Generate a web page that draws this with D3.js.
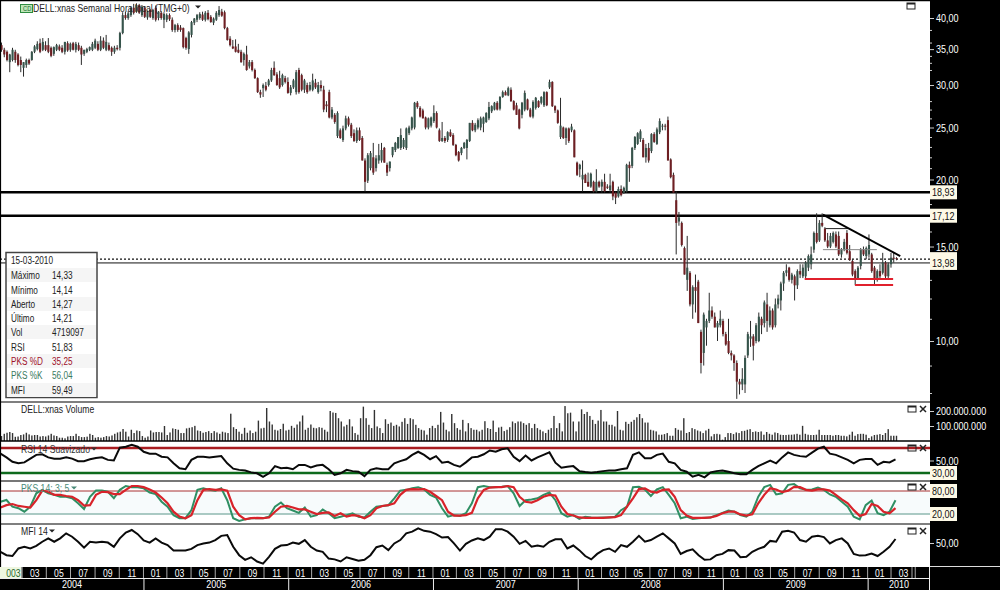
<!DOCTYPE html>
<html><head><meta charset="utf-8">
<script src="https://d3js.org/d3.v7.min.js"></script>
<style>html,body{margin:0;padding:0;background:#fff;overflow:hidden}svg{display:block}text{font-family:"Liberation Sans",Arial,sans-serif}</style>
</head><body><svg id="c" width="1000" height="590"></svg>
<script>
// [open, high, low, close] weekly
const candles2004=[[35.6,36,34.6,34.9],[34.9,35.2,33.8,34.2],[34.6,34.8,33.2,33.4],[33.1,34.3,31.7,34.2],[33.4,35.2,33.2,34.9],[34.6,34.9,33,33.4],[34.2,34.4,32.5,32.7],[33.4,33.9,31.7,32.7],[32.3,33.1,31.1,33.1],[32.7,33.6,32.3,33.4],[33.4,33.6,32.7,32.9],[33.4,34.7,33.3,34.6],[34.6,35.6,34.4,35.4],[35,36.2,34.8,35.8],[35.9,36.6,34.4,34.6],[34.9,36.7,34.7,36.1],[35.6,36.2,34.7,34.9],[35.6,36.7,34.4,34.6],[35.2,35.4,33.8,34],[34.3,35.4,34,35.3],[34.9,35.8,34.7,35.6],[35.4,35.7,34.7,34.9],[35.2,35.6,34.4,34.6],[34.6,36.1,34.2,36.1],[35.9,36.2,34.6,34.8],[34.9,36,34.6,35.8],[35.9,36.1,34.8,34.9],[34.9,36.1,34.5,35.8],[35.6,36,34.7,34.9],[35.2,35.5,32.7,34.2],[34.3,34.9,34,34.9],[34.6,35.2,34.4,35],[34.9,35.4,34.7,35.3],[34.9,36.1,34.7,35.8],[35.2,36.6,35,36.3],[35.8,36.2,34.7,34.9],[34.9,37,34.7,36.3],[36.3,36.8,35,35.2],[34.9,37.2,34.7,36.1],[35.6,36,34.7,34.9],[35.2,35.4,34,34.6],[34.6,35.5,34.3,35.2],[35.2,35.6,34.8,35],[35.2,37.7,34.8,37.5],[37.5,41,37.3,40.5],[40.5,41.1,39.7,40],[40,41.2,39.7,40.8],[40.5,42,40.2,41.8],[41.8,42.5,40.6,40.9],[41.1,42.6,40.9,42.3],[42.3,42.5,40.7,40.9],[40.5,42.3,40.2,42],[41.8,42.1,40,40.2]];
const candles2005=[[40.1,41.3,39.7,41.1],[41.4,41.6,40,40.2],[40,41.6,39.7,41.4],[41.8,42.2,39.4,39.7],[40,41.2,39.6,41.1],[40.9,41.2,39.7,40],[39.7,41,38.3,40.7],[39.7,40.8,39.3,40.5],[40.5,40.8,39.5,39.8],[39.7,40.1,37.7,38],[38,39,37.6,38.8],[38.8,39.1,37.7,38],[38.4,38.8,37.7,38],[38.3,38.4,35.1,35.3],[36.7,36.9,34.9,35.2],[35,37.8,34.3,37.6],[37.2,39.5,36.8,39.3],[39.2,40,38.8,39.9],[39.7,40.7,39.3,40.5],[40,41,39.7,40.7],[40.6,41.1,39.5,39.7],[39.7,41.2,39.4,40.9],[40.9,41.4,39.6,39.8],[40.2,40.5,39.2,39.3],[39.2,40.1,38.8,39.9],[39.7,41.2,39.5,40.9],[40.5,42.1,40.2,41.4],[41.1,41.6,40.2,40.4],[41,41.3,38.1,38.3],[38.3,38.5,36.3,36.4],[36.6,37,35.4,35.6],[35.4,36.4,35,35.1],[35.4,36.5,34.5,34.6],[34.9,35.8,34.4,34.5],[34.6,34.9,33,33.1],[33.4,34.5,32.6,34.3],[34.2,35.5,31.9,32],[32.5,33.4,32.2,33.1],[33.1,33.4,31.8,32],[32,32.2,30.8,30.9],[30.9,31,29,29.1],[29.1,29.4,28.4,28.8],[29.6,30.2,28.5,30],[29.9,30.4,29.2,29.4],[30,30.8,29.8,30.6],[30.6,32.3,30.4,32],[32.3,33.2,31.2,31.3],[31.4,31.7,29.9,30],[30.9,31.9,29.5,29.7],[30,31.5,29.8,31.3],[30.9,31.2,30.2,30.4],[30.4,31,28.9,29],[29,30,28.7,29.7]];
const candles2006=[[29.7,30.8,29.5,30.6],[29.1,32,28.8,31.7],[32,32.3,28.9,29.1],[31.3,31.5,29.2,29.4],[29.4,30.8,29,30.6],[30,30.3,28.9,29.1],[29.4,30.4,29.2,30],[29.4,31.5,29.2,30.6],[30.3,30.8,29.5,29.7],[29.1,30.4,28.9,30],[30,30.6,29.2,29.6],[29.4,29.9,26.7,27],[27.6,28,26.7,27.4],[29.1,29.4,26,26.1],[26.1,27.3,25.9,27],[26.4,26.6,25.4,25.6],[24.1,26.8,23.9,26.6],[24.7,24.9,23.8,23.9],[23.7,25.2,23.5,24.9],[24.9,26.3,24.7,26],[26,26.2,25.1,25.3],[25.3,25.5,23.9,24.1],[24.4,24.8,23.5,23.6],[23.6,25,23.4,24.7],[24.7,25,23.6,23.7],[23.9,24.1,21.7,21.7],[21.7,21.9,19,19.8],[19.9,22.4,19.7,22.2],[21,22.6,20.8,22.4],[22,23.4,20.4,20.6],[21,22.2,20.7,21.9],[21.7,23.3,21.4,22.2],[21.7,23.4,21.5,22.7],[22.9,23,21.5,21.5],[21.3,21.5,20.3,20.6],[21,21.6,20.7,21.6],[22.2,23,22,23],[22.7,23.5,22.5,23.4],[22.9,24,22.8,24],[22.9,24.9,22.7,24.2],[23,23.9,22.8,23.7],[22.9,25,22.7,24.9],[24.4,25.2,24.2,25],[24.9,26.2,24.7,26.1],[25,27.9,24.8,27.8],[27.8,28,27.1,27.3],[27.2,27.4,26.1,26.2],[26.9,27.1,26,26],[26.1,26.2,24.8,25],[25,26.1,24.8,26],[25.2,26.2,25,26.1],[25.7,27.5,25.5,26.6],[26.6,26.8,24.9,25],[24.7,24.9,23.5,23.6]];
const candles2007=[[23.6,25.6,23.5,23.9],[23.9,24.1,23.4,23.6],[23.7,24.6,23.5,24.5],[24.5,24.8,24,24.1],[24.2,24.4,23.1,23.2],[23.2,23.3,22.1,22.2],[22.5,22.6,21.6,21.7],[22.4,23,22.2,22.9],[22.9,23.5,22.8,23.4],[22.9,23.8,21.8,23.7],[23.6,25.5,23.5,25.5],[25.5,25.8,24.6,24.7],[24.7,25.5,24.5,25.3],[25,26,24.8,25.8],[25,26.2,24.7,26],[25.4,26.2,24.5,26.1],[25.6,26.7,25.5,26.6],[26,27.9,25.8,27.3],[26.8,27.5,26.6,27.4],[27,27.9,26.9,27.8],[27.8,28,26.9,27],[27.1,28.6,26.9,28.5],[28.5,29.3,28.4,29.1],[29.1,29.3,28.7,28.7],[28.7,29.8,28.6,29.6],[29.4,29.7,27.9,28],[28,28.1,26.9,27],[27.5,27.8,26.4,26.4],[27,27.1,24.8,24.9],[26.4,27.9,26,27.8],[27,29.3,26.8,29],[28.2,28.3,26.9,27],[27,27.2,26.1,26.2],[26.2,28.1,26,27.9],[27.2,28.5,27,28.4],[28,28.1,27.2,27.3],[27.8,28.6,27.6,28.5],[27.5,29.2,27.3,29.1],[29.1,29.2,27.4,27.5],[29.7,30.7,29.5,30.4],[30.4,30.5,27.3,27.4],[27.4,27.5,26.6,26.9],[26.9,27,25.4,25.5],[24,28.4,23.8,25.2],[25,25.1,23.8,23.9],[23.9,25,23.2,24.9],[24.9,25,23.4,23.6],[24.7,25.4,24.5,25.1],[24.7,24.8,22,22],[21.5,21.6,20.3,20.4],[20.9,21.4,20.2,21.3]];
const candles2008=[[20,21.7,19,20.4],[20.4,20.5,19.7,19.7],[19.8,20.6,19.4,19.4],[19.4,20.6,19.3,20.5],[19.8,19.9,18.9,19],[19,20.9,18.9,19.8],[19.8,19.9,19.3,19.4],[19.4,20,18.9,19.8],[19.8,20.5,18.9,19],[19.4,19.6,19.2,19.3],[19.1,20.5,18.9,19.5],[19.8,19.9,18.3,18.6],[18.9,19,18,18.5],[18.6,19.4,18.5,19.2],[19.2,19.5,18.6,18.7],[18.9,19.4,18.8,19.3],[19,21.4,18.9,21.3],[21.3,21.6,19.8,21],[21.2,23,21,22.9],[22.9,24.1,22.7,24],[23.3,24.5,23.2,24.4],[23.8,24.8,23.5,24.6],[23.7,23.9,22,22],[22,23.3,21.5,22.9],[22.9,23.4,21.5,21.7],[22.6,24.4,22.4,24.3],[24.3,24.5,23.4,23.5],[23.3,25,23.2,24.8],[24.5,26,24.3,25.7],[25.1,25.4,24.7,25.2],[25.2,25.4,24.7,25.1],[25.8,26.2,21.7,21.7],[21.8,21.9,20.1,20.2],[20.4,20.6,18.9,18.9],[18.3,19,14.5,16.6],[16.7,17.4,16.4,17],[16.6,16.7,15,15.1],[14.9,15,13.3,13.3],[13,15.7,12.4,13.7],[13.4,13.5,11.6,11.7],[11.7,12.7,11,12.6],[12.6,13.3,11.3,12.4],[12.9,13,10.8,10.8],[10.4,10.5,8.7,9.1],[9.5,11.3,9,11.2],[10.6,11,9.8,10.9],[10.9,12.3,10.8,11.4],[11.4,11.6,11,11.1],[11.1,11.3,10.6,10.6],[10.6,10.9,10,10.8],[10.7,11.4,10.6,11],[10.9,11,10.2,10.3]];
const candles2009=[[10.3,10.4,9.8,9.85],[10,11,9.45,9.5],[9.5,9.6,9.2,9.4],[9.4,9.45,8.8,9.1],[9.1,9.2,7.8,8.4],[8.4,8.5,7.95,8.3],[8.3,8.9,8.1,8.5],[8.3,9.4,8,9.3],[9.4,10.4,9.3,10.3],[10.1,10.9,9.75,10.2],[10.2,10.3,9.2,9.8],[10,10.8,9.9,10.7],[10,11.3,9.95,11.1],[11,11.1,10.3,10.7],[10.8,11.9,10.6,11.8],[11.7,12.3,10.4,10.9],[10.7,11.6,10.6,11.4],[11.4,11.5,10.5,10.6],[10.7,12,10.6,11.7],[11.7,12.2,11.5,12],[11.9,12.9,11.4,12.8],[12.8,13.5,12.4,13.4],[13.4,13.9,13.2,13.55],[13.7,13.75,12.9,13],[13,13.4,12.8,13.3],[13.2,13.3,11.9,12.7],[12.7,13.6,12.5,13.5],[13.5,13.9,13.1,13.3],[13.2,13.9,13.1,13.7],[13.2,14.1,13,14],[13.7,14.5,13.5,14.4],[13.9,15,13.6,14.5],[14.8,16,14.6,15.9],[15.9,17.3,15.2,15.3],[15.4,16.8,15.3,16.6],[16.6,17.3,16.3,16.4],[16.2,16.3,15.3,15.4],[15.4,15.9,14.9,15],[15,15.9,14.9,15.7],[15.3,16,15.2,15.9],[15.8,16,14.9,15],[15.7,16,14.4,14.5],[14.5,14.9,14.3,14.8],[14.8,15.5,14.7,15.3],[15.9,16.1,14.5,14.6],[14.7,15.1,14.1,14.15],[14.1,14.2,13.2,13.3],[13.5,13.6,12.7,13.1],[13.1,13.8,13,13.7],[13.8,14.9,13.6,14.8],[14.8,15,14.4,14.5],[14.4,15,14.2,14.9]];
const candles2010=[[14.5,15.8,14.3,15.1],[14.5,14.6,13.4,13.5],[13.7,13.8,12.7,13.1],[13,13.6,12.9,13.5],[13.5,13.9,13,13.2],[13.4,14.6,13.3,14],[14,14.1,13.1,13.2],[13.2,14,13.1,13.9],[13.9,14.6,13.7,14.3],[14.3,14.6,14,14.27],[14.27,14.33,14.14,14.21]];
const volume=[33,48,55,60,53,28,30,40,44,55,44,37,40,40,30,33,30,37,48,37,33,22,22,18,30,33,33,48,33,26,26,29,48,40,22,26,22,26,33,30,37,48,57,62,80,62,30,75,53,70,66,33,22,30,70,57,60,60,57,100,40,57,84,80,75,53,53,84,88,92,101,70,66,55,60,66,53,66,57,48,62,57,53,182,92,80,62,48,88,55,70,53,62,136,84,88,220,130,110,75,70,80,115,70,75,101,88,110,130,170,75,88,110,88,85,92,88,75,62,200,190,187,152,130,97,108,145,97,53,42,152,229,152,108,86,207,97,86,53,145,114,123,101,108,97,128,152,114,152,145,108,86,75,70,42,86,101,86,108,194,123,75,64,180,119,86,75,141,64,119,86,75,75,64,75,132,86,80,136,60,90,95,66,75,92,130,119,130,130,119,108,119,86,114,86,75,64,53,75,86,167,86,119,64,233,185,189,130,64,130,211,180,194,167,141,114,136,207,130,130,108,108,97,200,75,70,128,114,128,141,158,180,152,123,123,75,70,64,42,42,46,53,35,35,86,75,70,152,53,60,86,79,70,64,53,70,81,31,46,48,44,9,26,53,53,46,57,53,66,68,75,79,60,64,60,64,42,60,48,42,57,53,42,40,40,42,42,44,48,42,101,48,42,40,40,42,75,40,40,40,40,35,40,40,35,35,31,42,62,35,46,48,48,42,20,31,40,42,46,40,53,79,35,35,35];
const rsi=[61,55,48,45.5,47,53,59,60,55,53,53,55,53,49,49,52,54,55,51,50,70.5,72,75,72,64,61,61,56,55,45.5,37.5,36,51,56,56,55,56,57,45.5,37,35,34,31,29.5,24,29.5,41,37.5,38.5,36,43,43,39,42,43,36,27,29.5,35,33,32,25,35,37.5,36,36,45.5,49,52,59,64,59,52,57,46.5,48,43,40,47,55,56,60,66,64,68,69.5,56,49,58,50,55,59,63,46.5,38.5,40,41,33,31.5,30.5,31.5,33,34,34,36,37.5,59,63,53.5,53.5,59,61,48,45.5,35,32,24,27,23,31,33,34,32,29.5,28,28,35,41,45.5,50,45.5,55,63,59,57,56,62.5,69,72,61,59,55,51,45.5,51,52.4,52.4,43,48,47,51.83];
const mfi=[29,21,19,37,41,37,43,53,61,53,61,73,65,53,39,53,51,53,51,41,61,75,81,71,56,51,61,51,45,32,32,32,36,45,49,51,57,67,69,41,21,10,16,6,1,17,36,44,45,51,48,57,41,32,29,13,11,6,16,12,8,10,21,40,44,33,49,57,73,77,85,79,77,71,63,64,49,32,48,56,61,57,65,83,83,77,65,48,55,41,44,41,53,59,59,37,44,33,19,11,24,33,37,29,45,41,53,67,53,57,65,73,61,49,24,31,35,21,10,11,21,24,33,32,16,17,29,36,41,55,53,77,79,75,57,53,65,67,64,49,57,61,49,24,20,21,25,19,29,41,59.49];
const pksK=[52,56.5,39,35,26,39,74,83,74,70,65,65,61,48,33,65,81,81,78,61,83,93,90,90,87,76,72,52,39,17,9,9,30,83,87,83,81,87,56,9,2,6,9,9,9,13,39,50,35,29,23,37,13,17,32,22,9,13,17,22,13,11,26,39,41,43,61,81,83,87,90,84,70,63,35,13,17,15,22,48,90,93,90,90,91,93,74,41,56,58,61,70,76,56,22,13,17,7,13,11,10,11,11,13,30,39,90,91,84,67,84,90,70,48,9,13,7,9,10,11,17,23,29,26,17,13,26,65,90,96,71,74,96,98,87,83,84,89,83,71,65,52,39,13,6,43,55,22,17,26,56.04];
const pksD=[37,43,46,41,39,37,56,81,78,70,70,67,65,56,42,43,70,78,77,72,72,83,93,93,90,84,76,63,48,26,13,9,17,56,83,85,83,84,81,39,17,6,9,10,9,11,26,39,41,37,32,32,26,20,23,24,15,22,13,17,15,9,17,35,41,43,48,70,83,85,84,85,78,67,56,26,16,16,17,23,61,83,89,90,90,93,90,65,52,50,56,65,70,68,39,20,16,11,10,10,10,10,11,12,17,39,61,85,87,78,76,83,84,65,30,16,10,10,10,11,15,22,26,26,19,16,19,48,70,87,84,77,81,91,90,83,81,84,84,81,70,58,48,30,15,20,46,41,26,22,35.25];
const monthLabels=["003","03","05","07","09","11","01","03","05","07","09","11","01","03","05","07","09","11","01","03","05","07","09","11","01","03","05","07","09","11","01","03","05","07","09","11","01","03"];
const yearLabels=["2004","2005","2006","2007","2008","2009","2010"];
const priceTicks=[40,35,30,25,20,15,10];
const priceMinor=[45,38,36,34,33,32,28,27,26,24,23,22,21,19,18,17,16,14,13,12,11,9,8];
const volTicks=[200e6,100e6];
const rsiTicks=[50];
const mfiTicks=[50];
const levels=[18.93,17.12];
const infoLabels=["15-03-2010","Máximo","Mínimo","Aberto","Último","Vol","RSI","PKS %D","PKS %K","MFI"];
const infoValues=["","14,33","14,14","14,27","14,21","4719097","51,83","35,25","56,04","59,49"];
const trendLine=[[new Date(2009,8,9),17.2],[new Date(2010,2,23),14.4]];
const grayLevels=[[new Date(2009,8,15),new Date(2009,10,12),16.2,"#222"],[new Date(2009,8,9),new Date(2010,0,23),14.8,"#888"]];
const redLevels=[[new Date(2009,6,25),new Date(2010,2,5),13.05],[new Date(2009,10,29),new Date(2010,2,5),12.72]];

const candles=[...candles2004,...candles2005,...candles2006,...candles2007,...candles2008,...candles2009,...candles2010];
const svg=d3.select("#c");
const W=930;
const xT=d3.scaleTime().domain([new Date(2004,0,4),new Date(2010,5,6)]).range([0,W]);
const xC=d3.scalePoint().domain(d3.range(candles.length)).range([1.5,896.5]);
const xV=d3.scalePoint().domain(d3.range(volume.length)).range([1.5,896.5]);
const xL=n=>d3.scalePoint().domain(d3.range(n)).range([0.5,895.5]);
const yP=d3.scaleLog().domain([10,40]).range([341,18]);
const yV=d3.scaleLinear().domain([0,200e6]).range([441,411]);
const yR=d3.scaleLinear().domain([30,70]).range([473,448]);
const yK=d3.scaleLinear().domain([20,80]).range([514,491]);
const yM=d3.scaleLinear().domain([50,60]).range([543,538.8]);
const comma=d3.format(".2f");
const cf=v=>comma(v).replace(".",",");
const volf=v=>d3.format(",")(v).replace(/,/g,".");

const clip=(id,y0,y1)=>svg.append("clipPath").attr("id",id).append("rect").attr("x",0).attr("y",y0).attr("width",W).attr("height",y1-y0);
clip("cMain",0,402);clip("cVol",402,441);clip("cRsi",441,481);clip("cPks",481,524);clip("cMfi",524,567);

svg.append("rect").attr("x",0).attr("width",W).attr("y",yK(80)).attr("height",yK(20)-yK(80)).attr("fill","#f7fbfc");

const main=svg.append("g").attr("clip-path","url(#cMain)");
main.append("line").attr("x1",0).attr("x2",W).attr("y1",yP(14.21)).attr("y2",yP(14.21)).attr("stroke","#111").attr("stroke-width",1.3).attr("stroke-dasharray","2,2");
main.append("line").attr("x1",0).attr("x2",W).attr("y1",yP(13.98)).attr("y2",yP(13.98)).attr("stroke","#777").attr("stroke-width",1.8);
main.selectAll(".lvl").data(levels).join("line").attr("x1",0).attr("x2",W).attr("y1",d=>yP(d)).attr("y2",d=>yP(d)).attr("stroke","#000").attr("stroke-width",2.5);
main.selectAll(".wick").data(candles).join("line").attr("x1",(d,i)=>xC(i)).attr("x2",(d,i)=>xC(i)).attr("y1",d=>yP(d[1])).attr("y2",d=>yP(d[2])).attr("stroke","#2a2a2a").attr("stroke-width",1);
main.selectAll(".body").data(candles).join("rect").attr("x",(d,i)=>xC(i)-1).attr("width",2.1)
  .attr("y",d=>yP(Math.max(d[0],d[3]))).attr("height",d=>Math.max(1,yP(Math.min(d[0],d[3]))-yP(Math.max(d[0],d[3]))))
  .attr("fill",d=>d[3]>=d[0]?"#36544b":"#6e1f23");
main.selectAll(".gr").data(grayLevels).join("line").attr("x1",d=>xT(d[0])).attr("x2",d=>xT(d[1])).attr("y1",d=>yP(d[2])).attr("y2",d=>yP(d[2])).attr("stroke",d=>d[3]).attr("stroke-width",1);
main.selectAll(".rd").data(redLevels).join("line").attr("x1",d=>xT(d[0])).attr("x2",d=>xT(d[1])).attr("y1",d=>yP(d[2])).attr("y2",d=>yP(d[2])).attr("stroke","#e0202c").attr("stroke-width",2);
main.append("path").attr("d",d3.line().x(d=>xT(d[0])).y(d=>yP(d[1]))(trendLine)).attr("stroke","#000").attr("stroke-width",2).attr("fill","none");

svg.append("g").attr("clip-path","url(#cVol)").selectAll("rect").data(volume).join("rect")
  .attr("x",(d,i)=>xV(i)-0.7).attr("width",1.4).attr("y",d=>yV(d*1e6)).attr("height",d=>yV(0)-yV(d*1e6)).attr("fill","#333");

const lineOf=(vals,y)=>{const sx=xL(vals.length);return d3.line().x((d,i)=>sx(i)).y(d=>y(d))(vals)};
const gr=svg.append("g").attr("clip-path","url(#cRsi)");
gr.append("line").attr("x1",0).attr("x2",W).attr("y1",yR(70)).attr("y2",yR(70)).attr("stroke","#a81c20").attr("stroke-width",2.4);
gr.append("line").attr("x1",0).attr("x2",W).attr("y1",yR(30)).attr("y2",yR(30)).attr("stroke","#0d6a1c").attr("stroke-width",2.4);
gr.append("path").attr("d",lineOf(rsi,yR)).attr("fill","none").attr("stroke","#0a0a0a").attr("stroke-width",2);

const gk=svg.append("g").attr("clip-path","url(#cPks)");
gk.append("line").attr("x1",0).attr("x2",W).attr("y1",yK(80)).attr("y2",yK(80)).attr("stroke","#a83030").attr("stroke-width",1);
gk.append("line").attr("x1",0).attr("x2",W).attr("y1",yK(20)).attr("y2",yK(20)).attr("stroke","#8fb8b0").attr("stroke-width",1.5);
gk.append("path").attr("d",lineOf(pksK,yK)).attr("fill","none").attr("stroke","#2f8f63").attr("stroke-width",2);
gk.append("path").attr("d",lineOf(pksD,yK)).attr("fill","none").attr("stroke","#d8232a").attr("stroke-width",2.2);

svg.append("g").attr("clip-path","url(#cMfi)").append("path").attr("d",lineOf(mfi,yM)).attr("fill","none").attr("stroke","#0a0a0a").attr("stroke-width",2);

const seps=[[402,"#000",1.2],[441,"#000",1.5],[481,"#777",2],[524,"#000",1.2]];
svg.selectAll(".sep").data(seps).join("line").attr("x1",0).attr("x2",W).attr("y1",d=>d[0]).attr("y2",d=>d[0]).attr("stroke",d=>d[1]).attr("stroke-width",d=>d[2]);
svg.append("line").attr("x1",0).attr("x2",W).attr("y1",0.5).attr("y2",0.5).attr("stroke","#000").attr("stroke-width",1.5);
svg.append("line").attr("x1",0.5).attr("x2",0.5).attr("y1",0).attr("y2",567).attr("stroke","#000").attr("stroke-width",1.2);

svg.append("rect").attr("x",20.5).attr("y",4.5).attr("width",12).attr("height",8).attr("fill","#bde6b8").attr("stroke","#2e8b40");
svg.append("text").attr("x",23).attr("y",11).attr("font-size",7).attr("fill","#1a6a30").text("CD");
svg.append("text").attr("x",33).attr("y",12).attr("font-size",10.5).attr("fill","#222").text("DELL:xnas Semanal Hora local (TMG+0)");
const tri=(x,y,c)=>svg.append("path").attr("d",`M${x-3},${y-1.5}L${x+3},${y-1.5}L${x},${y+1.5}Z`).attr("fill",c);
tri(198,7,"#222");
const labels=[["DELL:xnas Volume",21,413,"#222"],["RSI 14 Suavizado",21,453,"#333"],["PKS 14; 3; 5",21,492,"#4a8a78"],["MFI 14",21,535,"#222"]];
svg.selectAll(".pl").data(labels).join("text").attr("x",d=>d[1]).attr("y",d=>d[2]).attr("font-size",10.5).attr("fill",d=>d[3]).text(d=>d[0]);
tri(94,449,"#333");tri(74,488,"#4a8a78");tri(52,531,"#222");

const icons=[[911,6,false],[912,409,true],[912,448,true],[912,487,true],[912,531,true]];
icons.forEach(([x,y,cl])=>{
  svg.append("rect").attr("x",x-4).attr("y",y-3).attr("width",8).attr("height",6).attr("fill","none").attr("stroke","#222").attr("stroke-width",1);
  svg.append("rect").attr("x",x-4).attr("y",y-3).attr("width",8).attr("height",1.5).attr("fill","#222");
  if(cl) svg.append("path").attr("d",`M${x+8},${y-3}L${x+14},${y+3}M${x+14},${y-3}L${x+8},${y+3}`).attr("stroke","#222").attr("stroke-width",1.5);
});

const bx=svg.append("g");
bx.append("rect").attr("x",6).attr("y",252.5).attr("width",91).attr("height",145).attr("fill","#fff").attr("stroke","#444").attr("stroke-width",1.5);
const rowY=[260,275,290,304,318,332,347,361,375,390];
bx.selectAll(".bg").data(rowY.filter((d,i)=>i%2==1)).join("rect").attr("x",7).attr("width",89).attr("y",d=>d-7).attr("height",14).attr("fill","#f5f5f5");
const rowCol=i=>i==7?"#a0102a":i==8?"#3a7a60":"#222";
bx.selectAll(".l").data(infoLabels).join("text").attr("x",11).attr("y",(d,i)=>rowY[i]+3.5).attr("font-size",10).attr("fill",(d,i)=>rowCol(i)).text(d=>d);
bx.selectAll(".v").data(infoValues).join("text").attr("x",52).attr("y",(d,i)=>rowY[i]+3.5).attr("font-size",10).attr("fill",(d,i)=>rowCol(i)).text(d=>d);

svg.append("rect").attr("x",W).attr("y",0).attr("width",70).attr("height",590).attr("fill","#000");
svg.append("rect").attr("x",0).attr("y",567).attr("width",1000).attr("height",23).attr("fill","#000");
svg.append("line").attr("x1",W).attr("x2",1000).attr("y1",566.5).attr("y2",566.5).attr("stroke","#ddd");

const ax=(scale,vals,fmt,size)=>{
  const g=svg.append("g").attr("transform",`translate(${W},0)`).call(d3.axisRight(scale).tickValues(vals).tickFormat(fmt).tickSize(size).tickPadding(2));
  g.select(".domain").remove();g.selectAll("line").attr("stroke","#ccc");
  g.selectAll("text").attr("fill","#fff").attr("font-size",11).attr("font-family","Liberation Sans, Arial, sans-serif");
  return g;};
ax(yP,priceMinor.filter(v=>yP(v)>0&&yP(v)<400),()=>"",2);
ax(yP,priceTicks,cf,4);
ax(yV,volTicks,volf,4);
ax(yR,rsiTicks,cf,4);
ax(yM,mfiTicks,cf,4);
const tags=[[yP(18.93),"18,93"],[yP(17.12),"17,12"],[yP(14.21),""],[yP(13.98),"13,98"],[yR(30),"30,00"],[yK(80),"80,00"],[yK(20),"20,00"]];
const tg=svg.selectAll(".tag").data(tags).join("g").attr("transform",d=>`translate(930,${d[0]})`);
tg.append("rect").attr("x",0).attr("y",-7).attr("width",27).attr("height",14).attr("fill","#fdf9e6");
tg.append("text").attr("x",2).attr("y",4).attr("font-size",11).attr("fill","#111").text(d=>d[1]);

const monthDates=d3.timeMonth.range(new Date(2004,0,1),new Date(2010,5,1),2);
const stripe=svg.append("g");
monthLabels.forEach((m,i)=>{
  const x0=Math.max(0,xT(monthDates[i])),x1=xT(monthDates[i+1]);
  if(i==0) stripe.append("rect").attr("x",0).attr("y",567).attr("width",x1-1).attr("height",11).attr("fill","#eef7e0");
  stripe.append("line").attr("x1",x1-0.5).attr("x2",x1-0.5).attr("y1",567).attr("y2",578).attr("stroke","#aaa");
  stripe.append("text").attr("x",i==0?x1-2:(x0+x1)/2).attr("y",576.5).attr("text-anchor",i==0?"end":"middle").attr("font-size",10.5).attr("fill",i==0?"#2a6a30":"#fff").text(m);
});
stripe.append("line").attr("x1",912).attr("x2",912).attr("y1",567).attr("y2",578).attr("stroke","#aaa");
stripe.append("line").attr("x1",0).attr("x2",W).attr("y1",578.5).attr("y2",578.5).attr("stroke","#eee");
stripe.append("line").attr("x1",W-0.5).attr("x2",W-0.5).attr("y1",567).attr("y2",590).attr("stroke","#eee");
yearLabels.forEach((y,i)=>{
  const x0=Math.max(0,xT(new Date(2004+i,0,1))),x1=Math.min(W,xT(new Date(2005+i,0,1)));
  if(i>0) stripe.append("line").attr("x1",x0).attr("x2",x0).attr("y1",578).attr("y2",590).attr("stroke","#eee");
  stripe.append("text").attr("x",(x0+x1)/2).attr("y",588).attr("text-anchor","middle").attr("font-size",11).attr("fill","#fff").text(y);
});
// condensed text, as in the reference
svg.selectAll("text").each(function(){
  const t=d3.select(this);if(!t.text())return;
  const len=this.getComputedTextLength();
  t.attr("textLength",len*0.82).attr("lengthAdjust","spacingAndGlyphs");
});
</script></body></html>
